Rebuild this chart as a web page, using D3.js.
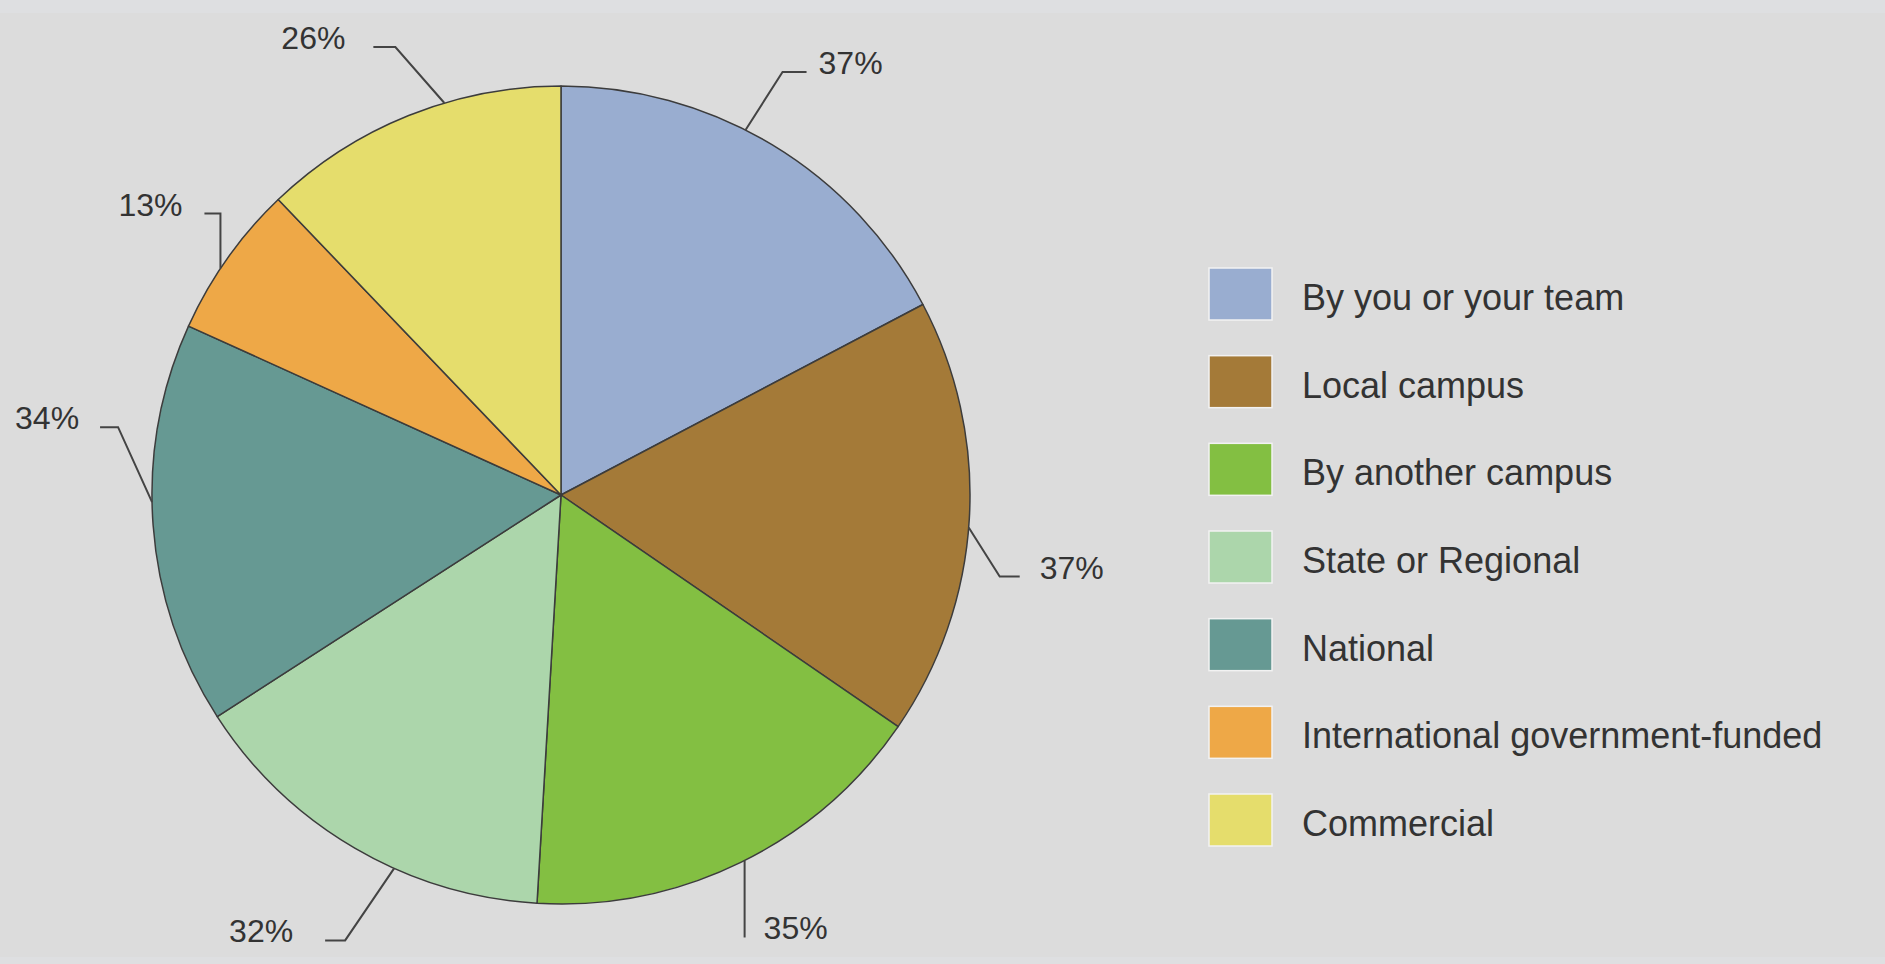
<!DOCTYPE html>
<html>
<head>
<meta charset="utf-8">
<script src="https://cdn.jsdelivr.net/npm/d3@7"></script>
<style>
body{margin:0;background:#dcdcdc;}
svg{display:block;}
text{font-family:"Liberation Sans",Arial,sans-serif;fill:#333;}
</style>
</head>
<body>
<div id="chart"></div>
<script>
const categories = ["By you or your team", "Local campus", "By another campus", "State or Regional",
    "National", "International government-funded", "Commercial"];
const values = [37, 37, 35, 32, 34, 13, 26];
const valueLabels = ["37%", "37%", "35%", "32%", "34%", "13%", "26%"];
const colors = ["#99add0", "#a47a38", "#83bf42", "#acd6ab", "#669993", "#eea847", "#e5dd6c"];

// where each leader line leaves the pie and bends (layout only)
const leaders = [
    {nudge: -4.3, dx: 37, dy: -58, tail: 24, side: 1, gap: 12},
    {nudge: 1.2, dx: 31, dy: 49, tail: 20, side: 1, gap: 20},
    {nudge: -0.6, dx: 0, dy: 77, tail: 0, side: 1, gap: 19},
    {nudge: -6.2, dx: -49, dy: 72, tail: 20, side: -1, gap: 32},
    {nudge: 3.2, dx: -34, dy: -75, tail: 18, side: -1, gap: 21},
    {nudge: -1.7, dx: 0, dy: -55, tail: 16, side: -1, gap: 22},
    {nudge: 5.3, dx: -49, dy: -56, tail: 22, side: -1, gap: 28}
];

const W = 1885, H = 964;
const cx = 561, cy = 495, r = 409;

const svg = d3.select("#chart").append("svg")
    .attr("width", W)
    .attr("height", H);

svg.append("rect").attr("width", W).attr("height", H).attr("fill", "#dcdcdc");
svg.append("rect").attr("width", W).attr("height", 13).attr("fill", "#dedfe1");
svg.append("rect").attr("y", 957).attr("width", W).attr("height", 7).attr("fill", "#dedfe1");

const colorScale = d3.scaleOrdinal().domain(categories).range(colors);

const pie = d3.pie().sort(null).value(d => d.value);
const arc = d3.arc().innerRadius(0).outerRadius(r);

const data = categories.map((c, i) => ({name: c, value: values[i], label: valueLabels[i], leader: leaders[i]}));
const arcs = pie(data);

const g = svg.append("g").attr("transform", `translate(${cx},${cy})`);

g.selectAll(".slice")
    .data(arcs)
    .enter().append("path")
    .attr("class", "slice")
    .attr("d", arc)
    .attr("fill", d => colorScale(d.data.name))
    .attr("stroke", "#3c3c3c")
    .attr("stroke-width", 1.5)
    .attr("stroke-linejoin", "round");

// leader lines + percentage labels
const lab = g.selectAll(".lab")
    .data(arcs)
    .enter().append("g")
    .attr("class", "lab");

function leaderPoints(d) {
    const L = d.data.leader;
    const a = (d.startAngle + d.endAngle) / 2 + L.nudge * Math.PI / 180;
    const x0 = r * Math.sin(a), y0 = -r * Math.cos(a);
    const x1 = x0 + L.dx, y1 = y0 + L.dy;
    const x2 = x1 + L.side * L.tail;
    return [[x0, y0], [x1, y1], [x2, y1]];
}

lab.append("path")
    .attr("d", d => d3.line()(leaderPoints(d)))
    .attr("fill", "none")
    .attr("stroke", "#444")
    .attr("stroke-width", 2);

lab.append("text")
    .attr("x", d => leaderPoints(d)[2][0] + d.data.leader.side * d.data.leader.gap)
    .attr("y", d => leaderPoints(d)[2][1] + 2)
    .attr("text-anchor", d => d.data.leader.side > 0 ? "start" : "end")
    .attr("font-size", 32)
    .text(d => d.data.label);

// legend
const ly = d3.scalePoint().domain(categories).range([294, 820]);
const legend = svg.append("g").attr("class", "legend");

const item = legend.selectAll(".item")
    .data(categories)
    .enter().append("g")
    .attr("class", "item")
    .attr("transform", d => `translate(1209,${ly(d)})`);

item.append("rect")
    .attr("x", 0)
    .attr("y", -26)
    .attr("width", 63)
    .attr("height", 52)
    .attr("fill", d => colorScale(d))
    .attr("stroke", "#f2f2f2")
    .attr("stroke-width", 1.5);

item.append("text")
    .attr("x", 93)
    .attr("y", 16)
    .attr("font-size", 36)
    .text(d => d);
</script>
</body>
</html>
